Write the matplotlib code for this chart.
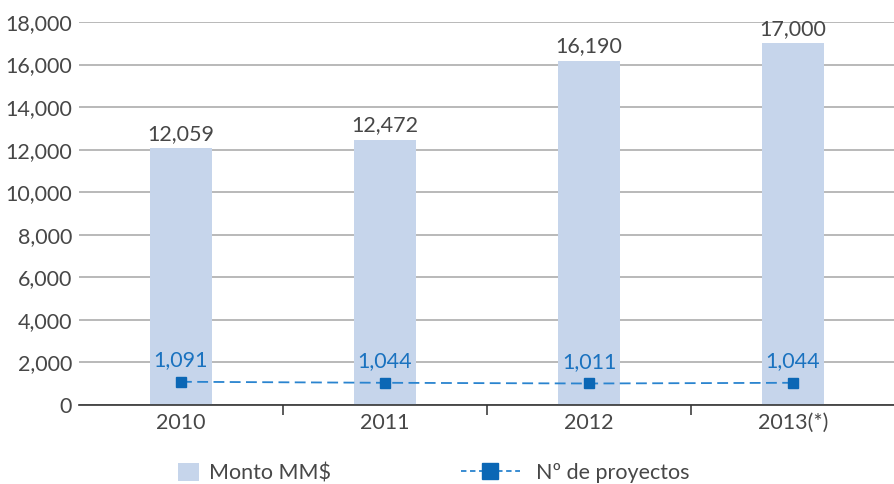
import matplotlib
matplotlib.use("Agg")
import matplotlib.pyplot as plt
from matplotlib.lines import Line2D
from matplotlib.patches import Patch

plt.rcParams["font.family"] = ["Lato", "DejaVu Sans"]

years = ["2010", "2011", "2012", "2013(*)"]
monto = [12059, 12472, 16190, 17000]
proyectos = [1091, 1044, 1011, 1044]
y_ticks = [0, 2000, 4000, 6000, 8000, 10000, 12000, 14000, 16000, 18000]

BAR_COLOR = "#c6d5eb"
LINE_COLOR = "#2a84cf"
MARKER_COLOR = "#0b67b5"
TEXT_COLOR = "#474747"
LABEL_BLUE = "#1a72bf"

fig = plt.figure(figsize=(8.94, 4.84), dpi=100)
ax = fig.add_axes([79 / 894, 1 - 405 / 484, 816 / 894, 383 / 484])

x = list(range(len(years)))
ax.bar(x, monto, width=0.3, color=BAR_COLOR, zorder=2)
ax.plot(x, proyectos, linestyle=(0, (6, 3)), color=LINE_COLOR, linewidth=1.3,
        marker="s", markersize=7, markerfacecolor=MARKER_COLOR,
        markeredgecolor=MARKER_COLOR, zorder=3)

for xi, v in zip(x, monto):
    ax.text(xi, v + 200, f"{v:,}", ha="center", va="bottom",
            fontsize=15.5, color=TEXT_COLOR)
for xi, v in zip(x, proyectos):
    ax.text(xi, v + 550, f"{v:,}", ha="center", va="bottom",
            fontsize=15.5, color=LABEL_BLUE)

ax.set_xlim(-0.5, 3.5)
ax.set_ylim(0, 18000)
ax.set_yticks(y_ticks)
ax.set_yticklabels([f"{t:,}" for t in y_ticks])
ax.yaxis.grid(True, color="#a6a6a6", linewidth=1.1, zorder=0)
ax.set_axisbelow(True)
ax.tick_params(axis="y", length=0, pad=5, labelsize=15.5, labelcolor=TEXT_COLOR)

# category ticks on boundaries, labels at centres
ax.set_xticks([0.5, 1.5, 2.5])
ax.set_xticklabels([])
ax.set_xticks(x, minor=True)
ax.set_xticklabels(years, minor=True)
ax.tick_params(axis="x", which="major", length=7, width=1.2, color="#404040",
               direction="out")
ax.tick_params(axis="x", which="minor", length=0, pad=6, labelsize=15.5,
               labelcolor=TEXT_COLOR)

for side in ["top", "right", "left"]:
    ax.spines[side].set_visible(False)
ax.spines["bottom"].set_color("#333333")
ax.spines["bottom"].set_linewidth(1.2)

h_bar = Patch(facecolor=BAR_COLOR, edgecolor="none")
h_line = Line2D([], [], linestyle=(0, (3, 2)), color=LINE_COLOR, linewidth=1.3,
                marker="s", markersize=11, markerfacecolor=MARKER_COLOR,
                markeredgecolor=MARKER_COLOR)
fig.legend([h_bar], ["Monto MM$"], loc="center left",
           bbox_to_anchor=(159 / 894, 1 - 473 / 484), frameon=False,
           fontsize=15.5, labelcolor=TEXT_COLOR, handlelength=0.95,
           handleheight=0.95, handletextpad=0.45)
fig.legend([h_line], ["Nº de proyectos"], loc="center left",
           bbox_to_anchor=(442 / 894, 1 - 473 / 484), frameon=False,
           fontsize=15.5, labelcolor=TEXT_COLOR, handlelength=2.7,
           handletextpad=0.75, numpoints=1)

fig.savefig("out.png", dpi=100)
